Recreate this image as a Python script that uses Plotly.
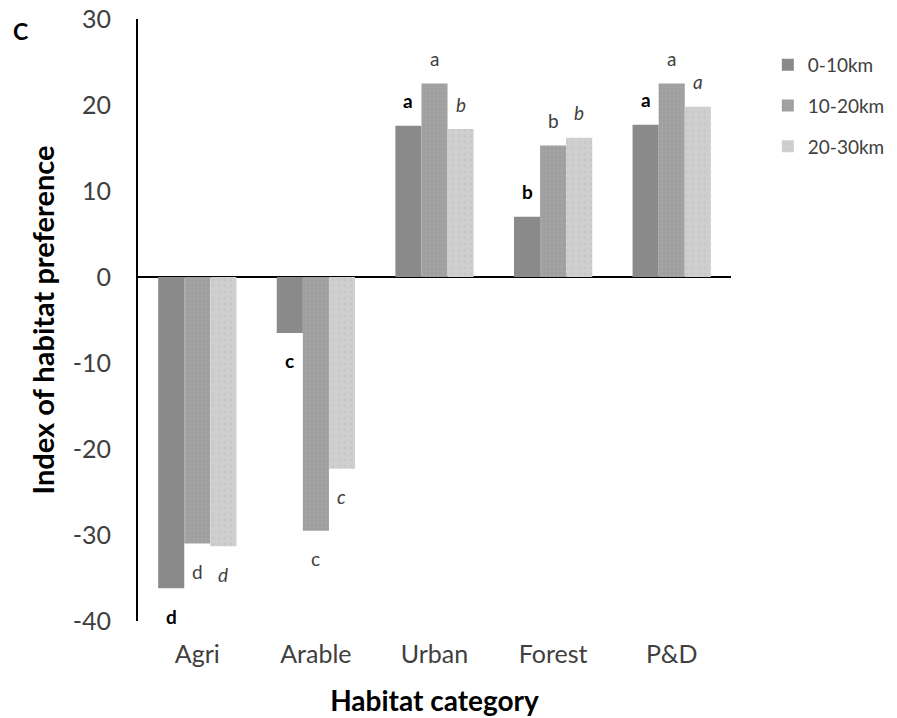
import plotly.graph_objects as go

categories = ["Agri", "Arable", "Urban", "Forest", "P&D"]
series_names = ["0-10km", "10-20km", "20-30km"]
values_0_10 = [-36.2, -6.5, 17.6, 7.0, 17.7]
values_10_20 = [-31.0, -29.5, 22.5, 15.3, 22.5]
values_20_30 = [-31.3, -22.3, 17.2, 16.2, 19.8]
letters_0_10 = ["d", "c", "a", "b", "a"]
letters_10_20 = ["d", "c", "a", "b", "a"]
letters_20_30 = ["d", "c", "b", "b", "a"]
y_ticks = [-40, -30, -20, -10, 0, 10, 20, 30]
y_tick_labels = [str(t) for t in y_ticks]

W, H = 897, 718
ML, MR, MT, MB = 138, 166, 19, 97
BARGAP = 0.34
FONT = "Lato"

colors = ["#8a8a8a", "#a3a3a3", "#cfcfcf"]
pattern_fg = [None, "#959595", "#bdbdbd"]
letter_fmt = [lambda s: f"<b>{s}</b>", lambda s: s, lambda s: f"<i>{s}</i>"]
letter_col = ["#000000", "#404040", "#404040"]

all_values = [values_0_10, values_10_20, values_20_30]
all_letters = [letters_0_10, letters_10_20, letters_20_30]

fig = go.Figure()
for i, (name, vals) in enumerate(zip(series_names, all_values)):
    marker = dict(color=colors[i], line=dict(width=0))
    if pattern_fg[i]:
        marker["pattern"] = dict(shape=".", fgcolor=pattern_fg[i], bgcolor=colors[i],
                                 size=4 if i == 1 else 6, solidity=0.3 if i == 1 else 0.15)
    fig.add_trace(go.Bar(x=categories, y=vals, name=name, marker=marker,
                         legendgroup=name))

plot_w = W - ML - MR
bar_w = plot_w / len(categories) * (1 - BARGAP) / 3
annotations = []
for i in range(3):
    for cat, v, l in zip(categories, all_values[i], all_letters[i]):
        annotations.append(dict(
            x=cat, y=v, xref="x", yref="y", xshift=(i - 1) * bar_w,
            yshift=25 if v > 0 else -28, xanchor="center", yanchor="middle",
            text=letter_fmt[i](l), showarrow=False,
            font=dict(family=FONT, size=19, color=letter_col[i])))
annotations.append(dict(x=0, y=1, xref="paper", yref="paper", xshift=20 - ML,
                        yshift=-12, xanchor="center", yanchor="middle",
                        text="<b>C</b>", showarrow=False,
                        font=dict(family=FONT, size=23, color="#000000")))

fig.update_layout(
    width=W, height=H,
    margin=dict(l=ML, r=MR, t=MT, b=MB, pad=0, autoexpand=False),
    paper_bgcolor="white", plot_bgcolor="white",
    barmode="group", bargap=BARGAP, bargroupgap=0,
    font=dict(family=FONT, color="#404040"),
    showlegend=True,
    legend=dict(xref="container", yref="container", x=0.856, y=0.936,
                xanchor="left", yanchor="top",
                font=dict(family=FONT, size=19, color="#404040"),
                tracegroupgap=13, traceorder="grouped", bgcolor="rgba(0,0,0,0)"),
    annotations=annotations,
)
fig.update_xaxes(showgrid=False, showline=False, zeroline=False, ticks="",
                 automargin=False,
                 tickfont=dict(family=FONT, size=25, color="#404040"),
                 ticklabelstandoff=16,
                 title=dict(text="<b>Habitat category</b>", standoff=24,
                            font=dict(family=FONT, size=28, color="#000000")))
fig.update_yaxes(range=[-40, 30], tickvals=y_ticks, ticktext=y_tick_labels,
                 showgrid=False, automargin=False,
                 showline=True, linecolor="#000000", linewidth=2,
                 zeroline=True, zerolinecolor="#000000", zerolinewidth=2,
                 ticks="", ticklabelstandoff=20,
                 tickfont=dict(family=FONT, size=25, color="#404040"),
                 title=dict(text="<b>Index of habitat preference</b>", standoff=10,
                            font=dict(family=FONT, size=29, color="#000000")))

fig.write_html("out.html", config={"displayModeBar": False},
               post_script="document.body.style.margin='0';")
